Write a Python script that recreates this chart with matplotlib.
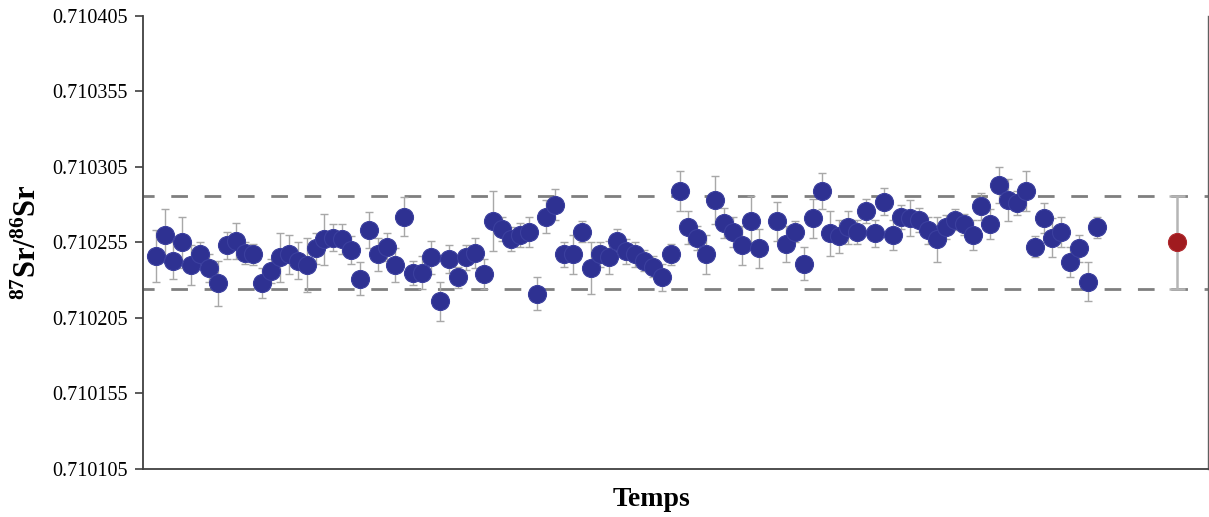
import matplotlib
matplotlib.use("Agg")
import matplotlib.pyplot as plt

# ---- data ----
sample_idx = list(range(69)) + list(range(70, 107))
ratios = [
    0.710246, 0.710260, 0.710243, 0.710255, 0.710240, 0.710247, 0.710238, 0.710228, 0.710253, 0.710256,
    0.710248, 0.710247, 0.710228, 0.710236, 0.710245, 0.710247, 0.710243, 0.710240, 0.710251, 0.710257,
    0.710258, 0.710257, 0.710250, 0.710231, 0.710263, 0.710247, 0.710252, 0.710240, 0.710272, 0.710235,
    0.710235, 0.710245, 0.710216, 0.710244, 0.710232, 0.710245, 0.710248, 0.710234, 0.710269, 0.710264,
    0.710257, 0.710260, 0.710262, 0.710221, 0.710272, 0.710280, 0.710247, 0.710247, 0.710262, 0.710238,
    0.710247, 0.710245, 0.710256, 0.710249, 0.710247, 0.710243, 0.710239, 0.710232, 0.710247, 0.710289,
    0.710265, 0.710258, 0.710247, 0.710283, 0.710268, 0.710262, 0.710253, 0.710269, 0.710251,
    0.710269, 0.710254, 0.710262, 0.710241, 0.710271, 0.710289, 0.710261, 0.710259, 0.710265, 0.710262,
    0.710276, 0.710261, 0.710282, 0.710260, 0.710272, 0.710271, 0.710270, 0.710263, 0.710257, 0.710265,
    0.710270, 0.710267, 0.710260, 0.710279, 0.710267, 0.710293, 0.710283, 0.710281, 0.710289, 0.710252,
    0.710271, 0.710258, 0.710262, 0.710242, 0.710251, 0.710229, 0.710265,
]
errors = [
    17e-6, 17e-6, 12e-6, 17e-6, 13e-6, 8e-6, 9e-6, 15e-6, 9e-6, 12e-6,
    7e-6, 7e-6, 10e-6, 8e-6, 16e-6, 13e-6, 12e-6, 18e-6, 10e-6, 17e-6,
    9e-6, 10e-6, 9e-6, 11e-6, 12e-6, 11e-6, 9e-6, 11e-6, 13e-6, 8e-6,
    11e-6, 11e-6, 13e-6, 9e-6, 7e-6, 8e-6, 10e-6, 10e-6, 20e-6, 8e-6,
    8e-6, 8e-6, 10e-6, 11e-6, 11e-6, 10e-6, 8e-6, 13e-6, 7e-6, 17e-6,
    8e-6, 11e-6, 8e-6, 8e-6, 8e-6, 7e-6, 7e-6, 9e-6, 7e-6, 13e-6,
    11e-6, 8e-6, 13e-6, 16e-6, 10e-6, 10e-6, 13e-6, 17e-6, 13e-6,
    13e-6, 12e-6, 7e-6, 11e-6, 13e-6, 12e-6, 15e-6, 11e-6, 11e-6, 8e-6,
    8e-6, 9e-6, 9e-6, 10e-6, 8e-6, 12e-6, 8e-6, 9e-6, 15e-6, 8e-6,
    7e-6, 7e-6, 10e-6, 9e-6, 10e-6, 12e-6, 14e-6, 8e-6, 13e-6, 7e-6,
    10e-6, 13e-6, 10e-6, 10e-6, 9e-6, 13e-6, 7e-6,
]
mean_idx = 115
mean_ratio = 0.710255
mean_err = 0.000031
band_upper = 0.710286
band_lower = 0.710224
y_ticks = [0.710105, 0.710155, 0.710205, 0.710255, 0.710305, 0.710355, 0.710405]
y_label = r"$\mathbf{^{87}Sr/^{86}Sr}$"
x_label = "Temps"

# ---- style ----
plt.rcParams["font.family"] = ["Liberation Serif", "DejaVu Serif"]
plt.rcParams["mathtext.fontset"] = "custom"
plt.rcParams["mathtext.rm"] = "Liberation Serif"
plt.rcParams["mathtext.bf"] = "Liberation Serif:bold"
plt.rcParams["mathtext.it"] = "Liberation Serif:italic"

fig = plt.figure(figsize=(12.09, 5.17), dpi=100)
ax = fig.add_axes([0.1183, 0.0928, 0.8807, 0.8768])

blue = "#2E3192"
red = "#A01B1F"
grey_err = "#A8A8A8"

ax.axhline(band_upper, color="#7F7F7F", lw=2.0, linestyle=(2, (6, 6)), zorder=1)
ax.axhline(band_lower, color="#7F7F7F", lw=2.0, linestyle=(2, (6, 6)), zorder=1)

ax.errorbar(sample_idx, ratios, yerr=errors, fmt="none", ecolor=grey_err,
            elinewidth=1.0, capsize=3, capthick=1.0, zorder=2)
ax.plot(sample_idx, ratios, "o", color=blue, markersize=13,
        markeredgecolor="#3B3F9E", markeredgewidth=0.8, zorder=3, linestyle="none")

ax.errorbar([mean_idx], [mean_ratio], yerr=[mean_err], fmt="none", ecolor="#B5B5B5",
            elinewidth=1.8, capsize=5.5, capthick=1.8, zorder=2)
ax.plot([mean_idx], [mean_ratio], "o", color=red, markersize=13,
        markeredgecolor="#B02A2E", markeredgewidth=0.8, zorder=3)

ax.set_xlim(-1.43, 118.5)
ax.set_ylim(0.710105, 0.710405)
ax.set_yticks(y_ticks)
ax.set_yticklabels([f"{v:.6f}" for v in y_ticks], fontsize=14.5)
ax.tick_params(axis="y", direction="out", length=6, width=1.2, color="#404040", pad=5)
ax.set_xticks([])

for s in ["left", "bottom", "right"]:
    ax.spines[s].set_color("#404040")
    ax.spines[s].set_linewidth(1.3)
ax.spines["top"].set_visible(False)
ax.spines["right"].set_color("#606060")
ax.spines["right"].set_linewidth(1.0)

ax.set_ylabel(y_label, fontsize=22)
ax.yaxis.set_label_coords(-0.094, 0.5)
ax.set_xlabel(x_label, fontsize=20, fontweight="bold")
ax.xaxis.set_label_coords(0.478, -0.04)

fig.savefig("out.png", dpi=100)
